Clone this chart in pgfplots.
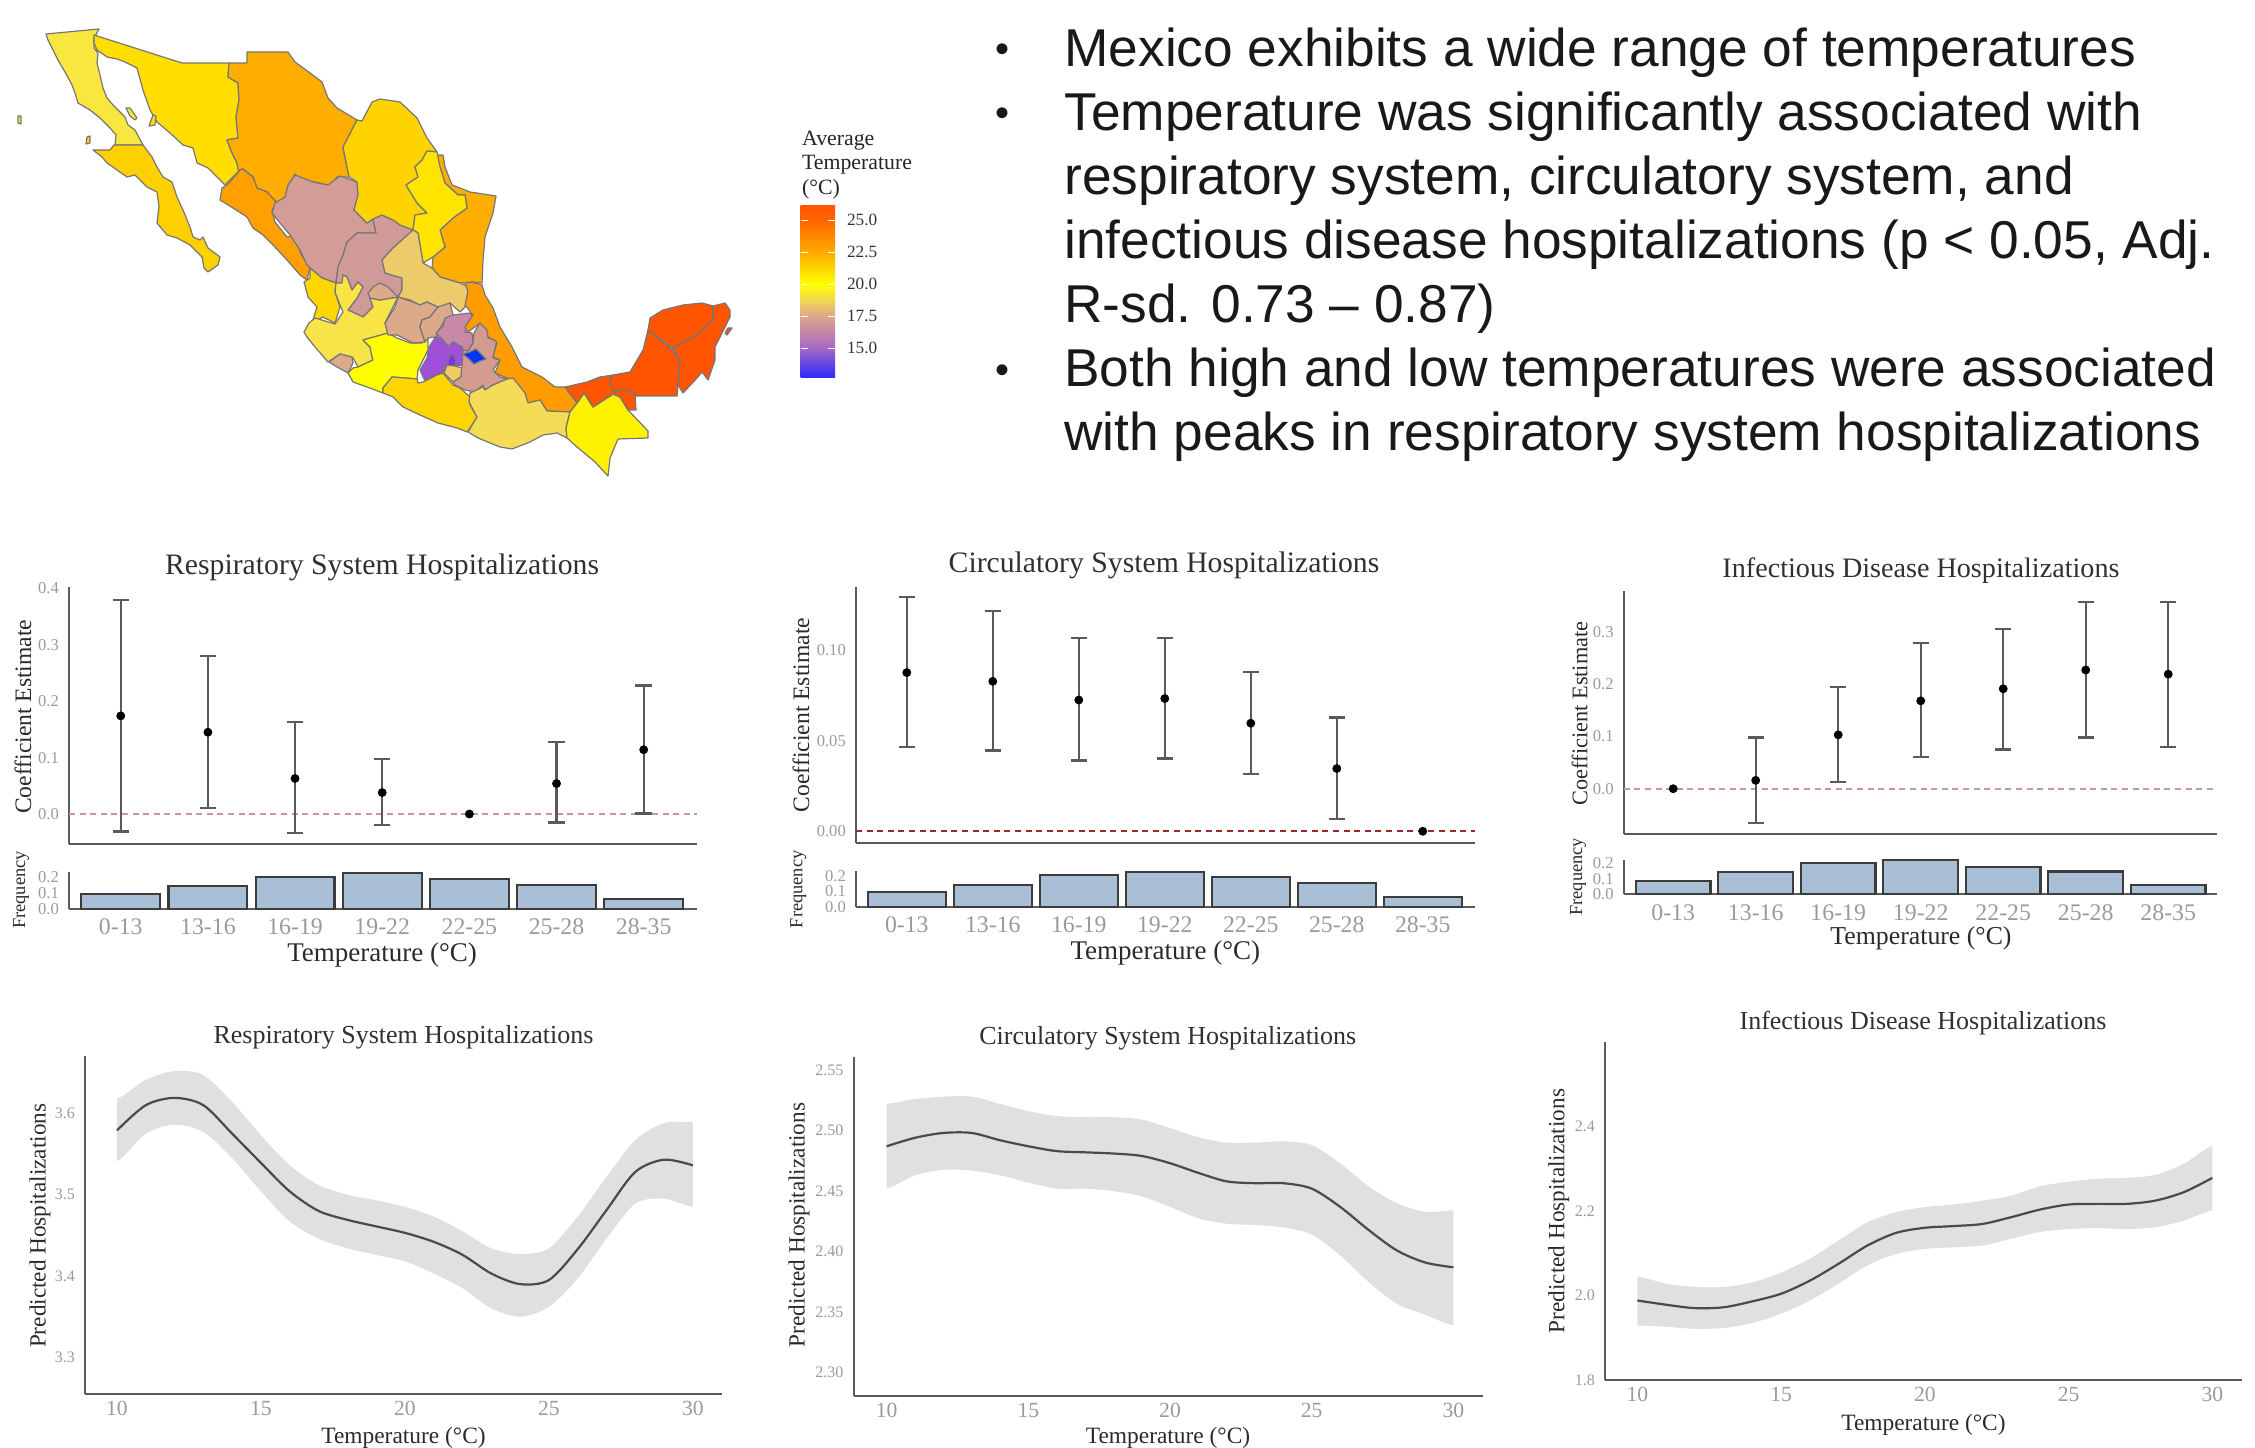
\documentclass[border=0pt]{standalone}
\usepackage{fontspec}
\setmainfont{Liberation Serif}
\newfontfamily\arialf{Liberation Sans}
\usepackage{pgfplots}
\pgfplotsset{compat=1.18}
\newcommand{\fs}[1]{\fontsize{#1pt}{#1pt}\selectfont}
\definecolor{axc}{HTML}{5A5A5A}
\definecolor{tickc}{HTML}{9A9A9A}
\definecolor{titlec}{HTML}{303030}
\definecolor{labc}{HTML}{2A2A2A}
\definecolor{barf}{HTML}{A9BFD6}
\definecolor{barl}{HTML}{3C3C3C}
\definecolor{errc}{HTML}{5A5A5A}
\definecolor{bandc}{HTML}{E0E0DE}
\definecolor{linec}{HTML}{4A4A4A}
\definecolor{redl}{HTML}{CC9696}
\definecolor{redd}{HTML}{9C2A2A}
\definecolor{brd}{HTML}{767676}
\definecolor{cBC}{HTML}{F9E63F}
\definecolor{cBS}{HTML}{FFD000}
\definecolor{cSO}{HTML}{FFDE00}
\definecolor{cCH}{HTML}{FFAD00}
\definecolor{cSI}{HTML}{FF9F00}
\definecolor{cDG}{HTML}{D49C96}
\definecolor{cZA}{HTML}{D09A98}
\definecolor{cCO}{HTML}{FFD300}
\definecolor{cNL}{HTML}{FFE400}
\definecolor{cSL}{HTML}{EDCB6B}
\definecolor{cNA}{HTML}{FFD700}
\definecolor{cAG}{HTML}{DDA98B}
\definecolor{cJA}{HTML}{F9E447}
\definecolor{cMI}{HTML}{FFFF00}
\definecolor{cHI}{HTML}{C888A8}
\definecolor{cME}{HTML}{A050D8}
\definecolor{cDF}{HTML}{7F30F0}
\definecolor{cMO}{HTML}{EFCB60}
\definecolor{cTL}{HTML}{0033FF}
\definecolor{cPU}{HTML}{D49C90}
\definecolor{cVE}{HTML}{FF9C00}
\definecolor{cGR}{HTML}{FFD500}
\definecolor{cOA}{HTML}{F5DC58}
\definecolor{cCS}{HTML}{FFF200}
\definecolor{cYU}{HTML}{FF5500}
\definecolor{s1}{HTML}{2A2AFF}
\definecolor{s2}{HTML}{A768C4}
\definecolor{s3}{HTML}{DDA88C}
\definecolor{s4}{HTML}{F0D05A}
\definecolor{s5}{HTML}{FFFF00}
\definecolor{s6}{HTML}{FFAA00}
\definecolor{s7}{HTML}{FF6600}
\definecolor{s8}{HTML}{FF5500}
\pgfdeclareverticalshading{tempscale}{100bp}{color(0bp)=(s1);
 color(25bp)=(s1);
 color(33.6bp)=(s2);
 color(42.96bp)=(s3);
 color(47bp)=(s4);
 color(52.2bp)=(s5);
 color(61.5bp)=(s6);
 color(70.84bp)=(s7);
 color(75bp)=(s8);
 color(100bp)=(s8)}
\pgfplotsset{
 place/.style 2 args={at={({#1*0.5pt},{(1447-#2)*0.5pt})},anchor=south west},
 pnl/.style={scale only axis,axis x line*=bottom,axis y line*=left,
  axis line style={-,draw=axc,line width=1pt},
  major tick length=0pt,scaled y ticks=false,clip=false,
  every axis title shift=0pt,
  /pgf/number format/assume math mode=true,
  /pgf/number format/fixed,/pgf/number format/fixed zerofill,
  tick label style={color=tickc},
  title style={color=titlec,anchor=center,yshift=-1.4pt},
  xlabel style={color=labc,anchor=center},
  ylabel style={color=labc,anchor=center}},
 coefpnl/.style={pnl,xtick=\empty,
  yticklabel style={font=\fs{8.3},xshift=-1.5pt},
  ylabel style={font=\fs{11.8}},ylabel={Coefficient Estimate}},
 freqpnl/.style={pnl,ytick={0,0.1,0.2},
  /pgf/number format/precision=1,
  xtick={0,1,2,3,4,5,6},xticklabels={0-13,13-16,16-19,19-22,22-25,25-28,28-35},
  xticklabel style={font=\fs{11.9},yshift=-1.5pt},
  yticklabel style={font=\fs{8.3},xshift=-1.5pt},
  ylabel style={font=\fs{9.2}},ylabel={Frequency},
  xlabel style={font=\fs{13.5},yshift=-2pt},xlabel={Temperature (°C)},
  ymin=0},
 predpnl/.style={pnl,xtick={10,15,20,25,30},
  /pgf/number format/precision=1,
  xticklabel style={font=\fs{10.8},/pgf/number format/precision=0,/pgf/number format/fixed zerofill=false},
  yticklabel style={font=\fs{8},xshift=-1.5pt},
  ylabel style={font=\fs{11.6}},ylabel={Predicted Hospitalizations},
  xlabel style={font=\fs{11.7},yshift=-1.5pt},xlabel={Temperature (°C)},
  title style={font=\fs{13}}},
 errp/.style={only marks,mark=*,mark size=2pt,black,
  error bars/.cd,y dir=both,y explicit,
  error bar style={draw=errc,line width=1.1pt},
  error mark options={rotate=90,draw=errc,mark size=4.1pt,line width=1.1pt}},
 barp/.style={ybar,bar width=0.905,fill=barf,draw=barl,line width=1.1pt,bar shift=0pt},
 st/.style={draw=brd,line width=0.6pt,line join=round},
}
\tikzset{bul/.style={anchor=base west,inner sep=0pt,text=black!90,font=\arialf\fs{26.63}},
 dot/.style={anchor=base west,inner sep=0pt,yshift=1.9pt,text=black!90,font=\arialf\fs{20}}}
\begin{document}
\begin{tikzpicture}
\path[use as bounding box] (0,0) rectangle (1127.5pt,723.5pt);
\begin{axis}[at={(0,0)},anchor=south west,scale only axis,width=1127.5pt,height=723.5pt,
 xmin=0,xmax=2255,ymin=0,ymax=1447,y dir=reverse,hide axis,clip=false]
% Mexico, traced state by state in picture pixels
\addplot[st,fill=cBC] coordinates {(46,34)(99,29)(94,38)(94,48)(98,53)(97,63)(100,75)(103,88)(107,98)(113,105)(125,117)(128,125)(135,130)(143,145)(115,145)(116,135)(110,128)(100,118)(90,110)(78,103)(75,93)(72,85)(65,72)(58,60)(53,50)(48,40)} -- cycle;
\addplot[st,fill=cBS] coordinates {(93,150)(110,150)(114,145)(143,145)(152,157)(157,167)(163,177)(172,182)(177,197)(183,210)(190,227)(193,237)(200,240)(203,237)(208,248)(220,257)(218,265)(208,272)(204,268)(202,257)(190,245)(177,238)(167,235)(157,223)(159,207)(157,192)(147,187)(135,175)(127,177)(117,170)(107,163)(102,157)} -- cycle;
\addplot[st,fill=cSO] coordinates {(94,35)(182,63)(229,63)(228,77)(238,83)(239,100)(236,117)(238,138)(227,140)(232,153)(237,163)(240,170)(225,185)(217,177)(208,168)(197,163)(193,148)(183,145)(170,133)(157,122)(150,110)(143,90)(137,68)(125,62)(117,59)(107,57)(97,50)(94,43)} -- cycle;
\addplot[st,fill=cCH] coordinates {(229,63)(247,63)(247,52)(288,52)(295,62)(310,73)(322,82)(328,98)(337,108)(357,120)(343,148)(349,177)(337,177)(330,186)(315,182)(305,183)(295,174)(288,187)(285,198)(277,203)(267,192)(257,188)(253,177)(243,169)(238,170)(237,163)(232,153)(227,140)(238,138)(236,117)(239,100)(238,83)(228,77)} -- cycle;
\addplot[st,fill=cSI] coordinates {(243,169)(253,177)(257,188)(267,192)(277,203)(272,210)(275,222)(287,237)(295,235)(300,245)(300,253)(310,267)(307,280)(300,275)(287,260)(273,245)(263,235)(253,228)(247,217)(233,208)(220,200)(222,188)(227,185)(240,170)} -- cycle;
\addplot[st,fill=cDG] coordinates {(295,175)(313,182)(328,185)(340,176)(357,182)(358,195)(354,210)(367,223)(373,219)(376,233)(357,233)(347,242)(343,255)(338,267)(336,283)(322,278)(310,268)(307,265)(300,250)(290,235)(280,223)(272,213)(275,203)(285,197)(288,185)} -- cycle;
\addplot[st,fill=cZA] coordinates {(373,219)(382,215)(393,220)(400,225)(413,230)(393,248)(382,260)(385,273)(402,278)(402,290)(398,297)(380,300)(370,298)(373,307)(363,317)(348,310)(357,298)(363,287)(358,282)(352,290)(347,277)(343,275)(342,283)(336,283)(338,267)(343,255)(347,242)(357,233)(376,233)} -- cycle;
\addplot[st,fill=cCO] coordinates {(357,120)(362,121)(372,102)(380,99)(400,102)(417,118)(427,138)(437,152)(427,151)(422,160)(415,167)(418,177)(406,185)(417,203)(427,213)(415,215)(413,230)(400,225)(393,220)(382,215)(373,219)(367,223)(354,210)(358,195)(357,182)(349,177)(343,147)} -- cycle;
\addplot[st,fill=cCH] coordinates {(435,155)(443,155)(445,167)(452,185)(470,192)(496,196)(493,213)(485,237)(483,260)(482,283)(472,282)(460,283)(440,277)(432,268)(433,257)(445,247)(440,230)(453,218)(467,208)(465,195)(458,195)(445,183)(440,167)} -- cycle;
\addplot[st,fill=cNL] coordinates {(427,151)(437,152)(440,167)(445,183)(458,195)(465,195)(467,208)(453,218)(440,230)(445,247)(433,257)(423,263)(418,233)(413,230)(415,215)(427,213)(417,203)(406,185)(418,177)(415,167)(422,160)} -- cycle;
\addplot[st,fill=cSL] coordinates {(413,230)(418,233)(423,263)(432,268)(440,277)(460,283)(469,287)(467,297)(465,307)(460,312)(450,303)(440,308)(427,302)(420,305)(410,300)(398,297)(402,290)(402,278)(385,273)(382,260)(393,248)} -- cycle;
\addplot[st,fill=cNA] coordinates {(310,268)(322,278)(336,283)(335,292)(340,307)(335,323)(323,317)(312,323)(317,307)(308,297)(304,282)(310,278)} -- cycle;
\addplot[st,fill=cJA] coordinates {(304,332)(309,323)(315,318)(335,324)(343,312)(340,305)(335,292)(336,283)(342,283)(343,275)(347,277)(352,290)(358,282)(363,287)(357,298)(348,310)(363,317)(373,307)(370,298)(380,300)(398,297)(385,323)(388,333)(363,340)(370,347)(372,357)(373,360)(358,367)(353,358)(352,357)(340,354)(328,362)(315,347)(307,337)} -- cycle;
\addplot[st,fill=cAG] coordinates {(370,298)(368,293)(373,287)(380,283)(388,287)(398,297)(380,300)} -- cycle;
\addplot[st,fill=cAG] coordinates {(329,362)(340,354)(352,357)(353,363)(348,373)(337,367)} -- cycle;
\addplot[st,fill=cMI] coordinates {(363,340)(388,333)(397,338)(410,343)(422,343)(428,338)(428,350)(418,370)(417,379)(405,378)(392,377)(383,388)(383,393)(367,387)(353,382)(348,373)(353,368)(358,367)(373,360)(372,357)(370,347)} -- cycle;
\addplot[st,fill=cAG] coordinates {(398,297)(413,302)(420,305)(427,302)(438,307)(430,317)(422,320)(420,327)(425,342)(413,343)(397,335)(388,335)(385,323)(395,307)} -- cycle;
\addplot[st,fill=cAG] coordinates {(438,307)(450,303)(453,315)(445,320)(437,333)(437,337)(428,338)(425,342)(420,327)(422,320)(430,317)} -- cycle;
\addplot[st,fill=cHI] coordinates {(453,315)(470,313)(474,318)(468,325)(465,332)(472,333)(473,343)(468,351)(463,350)(462,347)(453,342)(448,347)(443,340)(436,333)(443,326)(445,318)} -- cycle;
\addplot[st,fill=cME] coordinates {(436,336)(443,340)(448,347)(453,342)(462,347)(463,350)(463,365)(455,366)(447,365)(443,372)(438,374)(427,382)(424,379)(420,370)(427,358)(429,347)} -- cycle;
\addplot[st,fill=cDF] coordinates {(448,360)(452,353)(456,360)(455,366)(448,365)} -- cycle;
\addplot[st,fill=cMO] coordinates {(447,365)(455,366)(462,368)(461,377)(453,382)(444,373)} -- cycle;
\addplot[st,fill=cPU] coordinates {(474,333)(480,322)(487,328)(488,338)(497,340)(493,358)(500,360)(493,370)(500,377)(507,379)(493,385)(485,390)(483,385)(475,392)(465,390)(455,385)(453,382)(461,377)(462,365)(463,350)(468,351)(473,343)} -- cycle;
\addplot[st,fill=cTL] coordinates {(463,354)(470,352)(476,349)(482,355)(486,359)(480,361)(474,364)(468,358)} -- cycle;
\addplot[st,fill=cVE] coordinates {(465,283)(472,282)(482,285)(485,295)(493,308)(500,327)(512,347)(522,367)(542,377)(555,387)(565,387)(577,403)(570,412)(547,411)(540,400)(528,403)(525,393)(513,380)(507,378)(495,373)(500,360)(493,357)(497,342)(488,337)(487,330)(480,323)(468,332)(465,327)(473,315)(465,305)(468,292)} -- cycle;
\addplot[st,fill=cGR] coordinates {(383,388)(392,377)(405,378)(417,379)(418,383)(423,382)(437,375)(443,373)(453,385)(460,388)(470,397)(470,405)(477,417)(470,428)(467,432)(457,428)(438,423)(420,415)(403,407)(393,397)(383,393)} -- cycle;
\addplot[st,fill=cOA] coordinates {(513,378)(525,393)(528,403)(540,400)(547,411)(570,412)(566,428)(567,438)(557,433)(543,435)(530,442)(512,449)(500,447)(478,438)(468,432)(477,417)(469,402)(470,393)(483,387)(485,390)(493,385)(507,379)} -- cycle;
\addplot[st,fill=cCS] coordinates {(570,412)(577,403)(584,393)(593,407)(613,394)(620,397)(628,410)(648,431)(648,438)(618,439)(610,458)(608,476)(595,462)(577,447)(567,438)(566,428)} -- cycle;
\addplot[st,fill=cYU] coordinates {(565,387)(587,382)(600,377)(613,375)(610,380)(613,392)(622,389)(635,393)(636,410)(628,410)(620,397)(613,394)(593,407)(584,393)(577,403)} -- cycle;
\addplot[st,fill=cYU] coordinates {(613,375)(630,372)(643,350)(648,330)(670,348)(680,360)(677,396)(635,396)(635,393)(622,389)(613,392)(610,380)} -- cycle;
\addplot[st,fill=cYU] coordinates {(648,330)(650,318)(663,310)(683,305)(702,303)(713,306)(713,320)(697,335)(672,348)} -- cycle;
\addplot[st,fill=cYU] coordinates {(713,306)(725,303)(730,310)(730,317)(722,333)(715,347)(715,360)(708,380)(702,372)(697,378)(683,393)(678,385)(680,360)(672,348)(697,335)(713,320)} -- cycle;
\addplot[st,fill=cYU] coordinates {(727,335)(732,328)(728,328)(725,333)} -- cycle;
\addplot[st,fill=cBC] coordinates {(126,108)(130,108)(137,118)(135,120)(130,116)} -- cycle;
\addplot[st,fill=cSO] coordinates {(153,115)(156,116)(155,125)(149,126)} -- cycle;
\addplot[st,fill=cBS] coordinates {(87,137)(90,136)(90,143)(86,144)} -- cycle;
\addplot[st,fill=cBC] coordinates {(18,116)(21,116)(21,124)(18,123)} -- cycle;
% bullet text
\node[dot] at (axis cs:995,66) {•};
\node[dot] at (axis cs:995,130) {•};
\node[dot] at (axis cs:995,387) {•};
\node[bul] at (axis cs:1064,67) {Mexico exhibits a wide range of temperatures};
\node[bul] at (axis cs:1064,131) {Temperature was significantly associated with};
\node[bul] at (axis cs:1064,195) {respiratory system, circulatory system, and};
\node[bul] at (axis cs:1064,259) {infectious disease hospitalizations (p < 0.05, Adj.};
\node[bul] at (axis cs:1064,323) {R-sd. 0.73 – 0.87)};
\node[bul] at (axis cs:1064,387) {Both high and low temperatures were associated};
\node[bul] at (axis cs:1064,451) {with peaks in respiratory system hospitalizations};
% legend title
\node[anchor=west,inner sep=0pt,align=left,text=black!85,font=\fs{10.9}] at (axis cs:801.7,165) {Average\\[1.2pt]Temperature\\[1.2pt](°C)};
\end{axis}
% colour scale
\begin{axis}[place={800.7}{377.7},scale only axis,width=17.15pt,height=86pt,
 xmin=0,xmax=1,ymin=12.68,ymax=26.12,axis line style={draw=none},xtick=\empty,
 ytick={15,17.5,20,22.5,25},yticklabel pos=right,major tick length=0pt,
 /pgf/number format/assume math mode=true,/pgf/number format/fixed,/pgf/number format/fixed zerofill,/pgf/number format/precision=1,
 yticklabel style={font=\fs{8.6},text=black!80,xshift=2.5pt}]
\path[shading=tempscale] (axis cs:0,12.68) rectangle (axis cs:1,26.12);
\addplot[white,line width=0.5pt] coordinates {(0,15)(0.2,15)};
\addplot[white,line width=0.5pt] coordinates {(0.8,15)(1,15)};
\addplot[white,line width=0.5pt] coordinates {(0,17.5)(0.2,17.5)};
\addplot[white,line width=0.5pt] coordinates {(0.8,17.5)(1,17.5)};
\addplot[white,line width=0.5pt] coordinates {(0,20)(0.2,20)};
\addplot[white,line width=0.5pt] coordinates {(0.8,20)(1,20)};
\addplot[white,line width=0.5pt] coordinates {(0,22.5)(0.2,22.5)};
\addplot[white,line width=0.5pt] coordinates {(0.8,22.5)(1,22.5)};
\addplot[white,line width=0.5pt] coordinates {(0,25)(0.2,25)};
\addplot[white,line width=0.5pt] coordinates {(0.8,25)(1,25)};
\end{axis}
% ---- Panel 1
\begin{axis}[place={69}{844.3},coefpnl,width=313.75pt,height=128.5pt,
 xmin=-0.594,xmax=6.606,ymin=-0.0537,ymax=0.402,ytick={0,0.1,0.2,0.3,0.4},
 /pgf/number format/precision=1,
 title={Respiratory System Hospitalizations},
 title style={font=\fs{14.85},at={(axis description cs:0.499,1.0895)}},
 ylabel style={at={(axis description cs:-0.0733,0.4965)}}]
\addplot[redl,dash pattern=on 3pt off 2.3pt,line width=1.2pt] coordinates {(-0.594,0)(6.606,0)};
\addplot[errp] table[x=x,y=y,y error plus expr=\thisrow{hi}-\thisrow{y},y error minus expr=\thisrow{y}-\thisrow{lo}]{
x y hi lo
0 0.174 0.380 -0.031
1 0.145 0.280 0.010
2 0.063 0.1625 -0.034
3 0.038 0.098 -0.020
5 0.054 0.127 -0.015
6 0.114 0.228 0.001
};
\addplot[only marks,mark=*,mark size=2pt,black] coordinates {(4,0)};
\end{axis}
\begin{axis}[place={69}{909},freqpnl,width=313.75pt,height=18.35pt,
 xmin=-0.594,xmax=6.606,ymax=0.227,
 ylabel style={at={(axis description cs:-0.0765,0.518)}},
 xlabel style={at={(axis description cs:0.499,-1.136)}}]
\addplot[barp] coordinates {(0,0.093)(1,0.142)(2,0.2)(3,0.223)(4,0.188)(5,0.146)(6,0.062)};
\end{axis}
% ---- Panel 2
\begin{axis}[place={855.9}{842.7},coefpnl,width=309.45pt,height=128pt,
 xmin=-0.592,xmax=6.605,ymin=-0.0063,ymax=0.1349,ytick={0,0.05,0.10},
 /pgf/number format/precision=2,
 title={Circulatory System Hospitalizations},
 title style={font=\fs{14.85},at={(axis description cs:0.4978,1.094)}},
 ylabel style={at={(axis description cs:-0.0887,0.499)}}]
\addplot[redd,dash pattern=on 3pt off 2.3pt,line width=0.9pt] coordinates {(-0.592,0)(6.605,0)};
\addplot[errp] table[x=x,y=y,y error plus expr=\thisrow{hi}-\thisrow{y},y error minus expr=\thisrow{y}-\thisrow{lo}]{
x y hi lo
0 0.0875 0.129 0.0463
1 0.0827 0.1217 0.0445
2 0.0724 0.1066 0.039
3 0.0732 0.1066 0.0401
4 0.0596 0.0879 0.0314
5 0.0346 0.0627 0.0066
};
\addplot[only marks,mark=*,mark size=2pt,black] coordinates {(6,0)};
\end{axis}
\begin{axis}[place={855.9}{907},freqpnl,width=309.45pt,height=18.15pt,
 xmin=-0.592,xmax=6.605,ymax=0.232,
 ylabel style={at={(axis description cs:-0.0929,0.488)}},
 xlabel style={at={(axis description cs:0.5,-1.165)}}]
\addplot[barp] coordinates {(0,0.094)(1,0.143)(2,0.206)(3,0.226)(4,0.194)(5,0.155)(6,0.064)};
\end{axis}
% ---- Panel 3
\begin{axis}[place={1623.7}{834},coefpnl,width=296.8pt,height=121.5pt,
 xmin=-0.6,xmax=6.595,ymin=-0.0866,ymax=0.378,ytick={0,0.1,0.2,0.3},
 /pgf/number format/precision=1,
 title={Infectious Disease Hospitalizations},
 title style={font=\fs{14.07},at={(axis description cs:0.5008,1.096)}},
 ylabel style={font=\fs{11.15},at={(axis description cs:-0.0741,0.4967)}}]
\addplot[redl,dash pattern=on 3pt off 2.3pt,line width=1.2pt] coordinates {(-0.6,0)(6.595,0)};
\addplot[errp] table[x=x,y=y,y error plus expr=\thisrow{hi}-\thisrow{y},y error minus expr=\thisrow{y}-\thisrow{lo}]{
x y hi lo
1 0.016 0.098 -0.066
2 0.103 0.194 0.013
3 0.168 0.278 0.0605
4 0.191 0.305 0.075
5 0.227 0.357 0.098
6 0.219 0.357 0.080
};
\addplot[only marks,mark=*,mark size=2pt,black] coordinates {(0,0)};
\end{axis}
\begin{axis}[place={1623.7}{894.3},freqpnl,width=296.8pt,height=17.15pt,
 xmin=-0.6,xmax=6.595,ymax=0.219,
 ylabel style={at={(axis description cs:-0.077,0.513)}},
 xlabel style={font=\fs{12.9},at={(axis description cs:0.5008,-1.166)}}]
\addplot[barp] coordinates {(0,0.087)(1,0.140)(2,0.2)(3,0.217)(4,0.174)(5,0.145)(6,0.06)};
\end{axis}
% ---- Panel 4
\begin{axis}[place={85}{1394.3},predpnl,width=318.5pt,height=169.15pt,
 xmin=8.89,xmax=31.01,ymin=3.2545,ymax=3.6705,ytick={3.3,3.4,3.5,3.6},
 title={Respiratory System Hospitalizations},
 title style={at={(axis description cs:0.5,1.064)}},
 xlabel style={at={(axis description cs:0.5,-0.12)}},
 ylabel style={at={(axis description cs:-0.0706,0.498)}}]
\begin{scope}
\clip (axis cs:10,3.2545) rectangle (axis cs:30,3.6705);
\addplot[fill=bandc,draw=none,smooth] coordinates {(9,3.618)(10,3.618)(11,3.641)(12,3.652)(13,3.647)(14,3.614)(15,3.573)(16,3.536)(17,3.512)(18,3.500)(19,3.493)(20,3.485)(21,3.473)(22,3.455)(23,3.434)(24,3.427)(25,3.434)(26,3.473)(27,3.522)(28,3.567)(29,3.588)(30,3.589)(31,3.589)(31,3.485)(30,3.485)(29,3.495)(28,3.489)(27,3.446)(26,3.397)(25,3.362)(24,3.350)(23,3.360)(22,3.385)(21,3.403)(20,3.418)(19,3.426)(18,3.434)(17,3.446)(16,3.467)(15,3.504)(14,3.545)(13,3.577)(12,3.586)(11,3.575)(10,3.541)(9,3.541)} -- cycle;
\end{scope}
\addplot[linec,line width=1.1pt,smooth] coordinates {(10,3.579)(11,3.610)(12,3.619)(13,3.610)(14,3.575)(15,3.539)(16,3.504)(17,3.480)(18,3.469)(19,3.461)(20,3.453)(21,3.442)(22,3.426)(23,3.403)(24,3.390)(25,3.395)(26,3.433)(27,3.481)(28,3.528)(29,3.543)(30,3.536)};
\end{axis}
% ---- Panel 5
\begin{axis}[place={853.5}{1396},predpnl,width=314.55pt,height=169.35pt,
 xmin=8.83,xmax=31.03,ymin=2.2807,ymax=2.5605,ytick={2.30,2.35,2.40,2.45,2.50,2.55},
 /pgf/number format/precision=2,
 title={Circulatory System Hospitalizations},
 title style={at={(axis description cs:0.4996,1.0657)}},
 xlabel style={at={(axis description cs:0.5,-0.115)}},
 ylabel style={at={(axis description cs:-0.0866,0.505)}}]
\begin{scope}
\clip (axis cs:10,2.2807) rectangle (axis cs:30,2.5605);
\addplot[fill=bandc,draw=none,smooth] coordinates {(9,2.522)(10,2.522)(11,2.526)(12,2.528)(13,2.528)(14,2.522)(15,2.516)(16,2.512)(17,2.511)(18,2.511)(19,2.509)(20,2.502)(21,2.4945)(22,2.490)(23,2.490)(24,2.491)(25,2.488)(26,2.473)(27,2.454)(28,2.440)(29,2.433)(30,2.434)(31,2.434)(31,2.339)(30,2.339)(29,2.348)(28,2.357)(27,2.375)(26,2.397)(25,2.414)(24,2.420)(23,2.422)(22,2.423)(21,2.4275)(20,2.437)(19,2.4455)(18,2.450)(17,2.452)(16,2.452)(15,2.457)(14,2.463)(13,2.467)(12,2.4675)(11,2.463)(10,2.452)(9,2.452)} -- cycle;
\end{scope}
\addplot[linec,line width=1.1pt,smooth] coordinates {(10,2.487)(11,2.494)(12,2.498)(13,2.498)(14,2.492)(15,2.487)(16,2.483)(17,2.482)(18,2.481)(19,2.479)(20,2.473)(21,2.465)(22,2.458)(23,2.4565)(24,2.4565)(25,2.452)(26,2.437)(27,2.418)(28,2.401)(29,2.391)(30,2.387)};
\end{axis}
% ---- Panel 6
\begin{axis}[place={1604.9}{1380},predpnl,width=318.55pt,height=169.15pt,
 xmin=8.87,xmax=31.03,ymin=1.8,ymax=2.6,ytick={1.8,2.0,2.2,2.4},
 title={Infectious Disease Hospitalizations},
 title style={at={(axis description cs:0.4993,1.062)}},
 xlabel style={at={(axis description cs:0.5,-0.1233)}},
 ylabel style={at={(axis description cs:-0.0725,0.4996)}}]
\begin{scope}
\clip (axis cs:10,1.8) rectangle (axis cs:30,2.6);
\addplot[fill=bandc,draw=none,smooth] coordinates {(9,2.045)(10,2.045)(11,2.028)(12,2.020)(13,2.020)(14,2.031)(15,2.054)(16,2.087)(17,2.130)(18,2.173)(19,2.197)(20,2.209)(21,2.215)(22,2.224)(23,2.236)(24,2.258)(25,2.269)(26,2.276)(27,2.278)(28,2.285)(29,2.311)(30,2.354)(31,2.354)(31,2.201)(30,2.201)(29,2.177)(28,2.161)(27,2.157)(26,2.159)(25,2.157)(24,2.150)(23,2.134)(22,2.118)(21,2.114)(20,2.110)(19,2.098)(18,2.071)(17,2.028)(16,1.988)(15,1.957)(14,1.935)(13,1.923)(12,1.921)(11,1.926)(10,1.929)(9,1.929)} -- cycle;
\end{scope}
\addplot[linec,line width=1.1pt,smooth] coordinates {(10,1.988)(11,1.978)(12,1.970)(13,1.972)(14,1.986)(15,2.004)(16,2.035)(17,2.075)(18,2.118)(19,2.148)(20,2.160)(21,2.164)(22,2.169)(23,2.185)(24,2.203)(25,2.215)(26,2.2165)(27,2.2165)(28,2.224)(29,2.244)(30,2.278)};
\end{axis}
\end{tikzpicture}
\end{document}
